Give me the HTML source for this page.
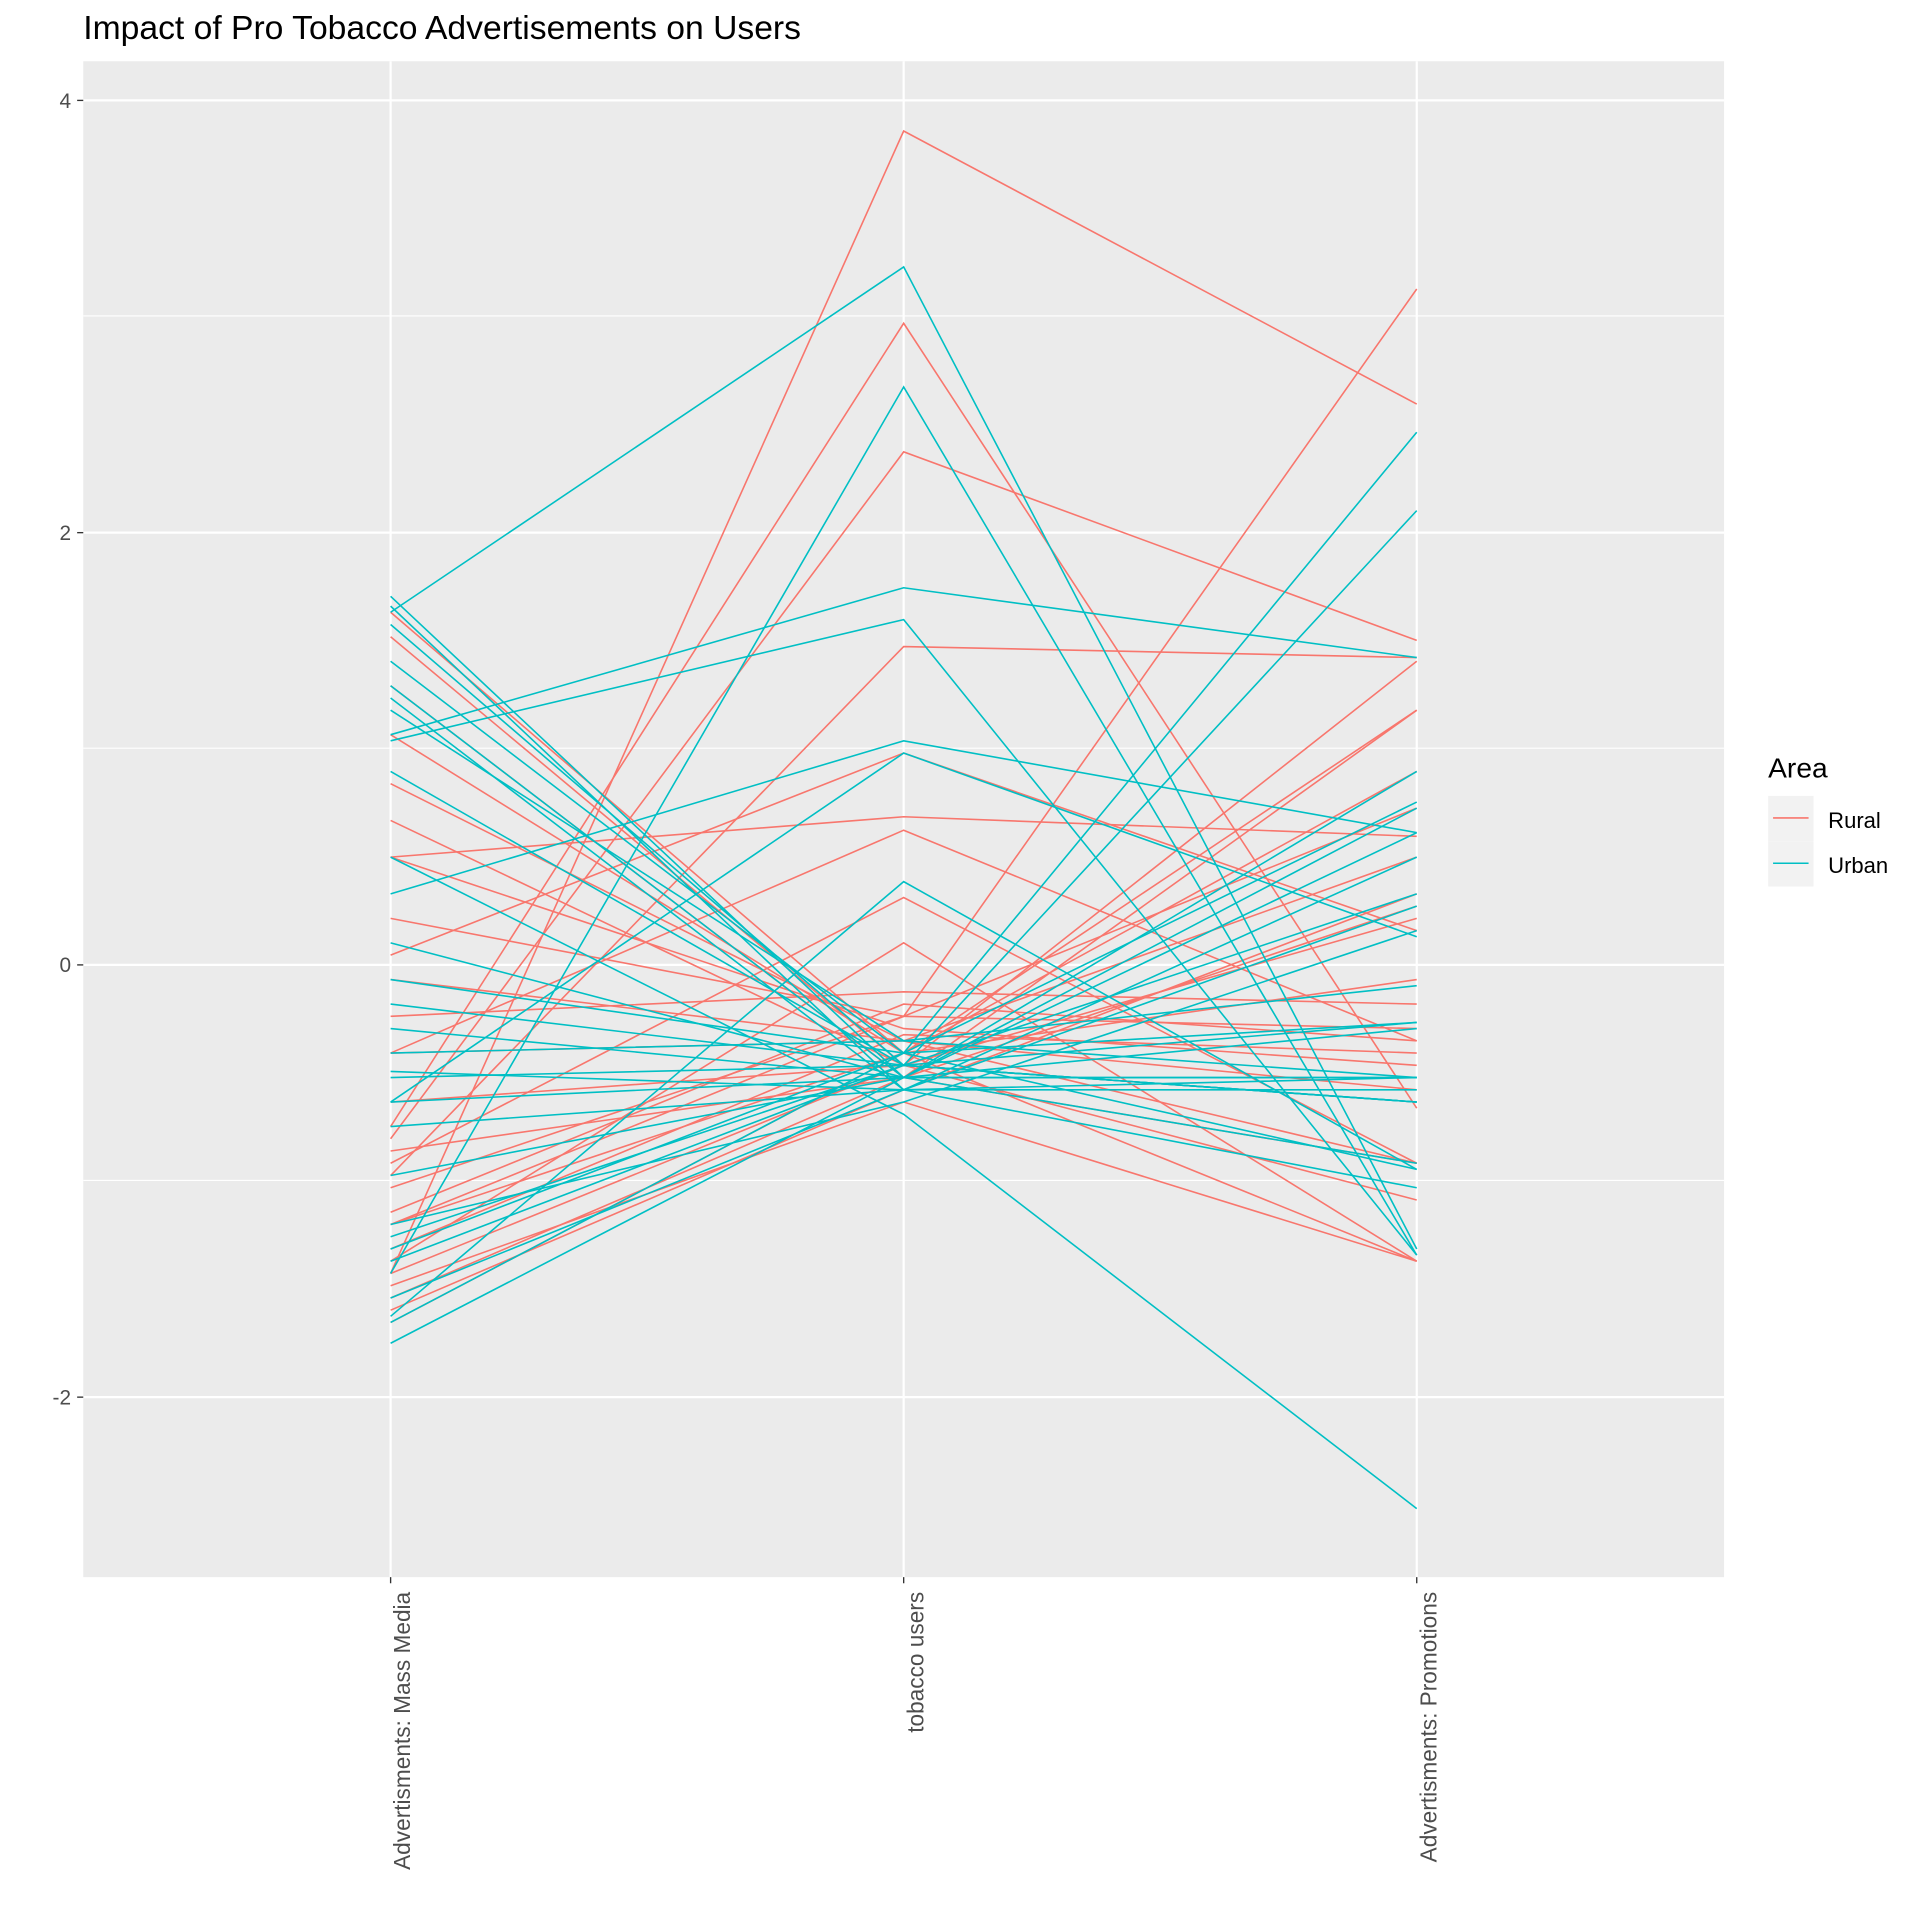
<!DOCTYPE html>
<html><head><meta charset="utf-8"><style>html,body{margin:0;padding:0;background:#fff}svg{display:block}</style></head><body>
<svg width="1920" height="1920" viewBox="0 0 1568 1568" xmlns="http://www.w3.org/2000/svg" font-family="Liberation Sans, Arial, sans-serif">
<rect width="1568" height="1568" fill="#fff"/>
<text x="68" y="32" font-size="27.5" fill="#000">Impact of Pro Tobacco Advertisements on Users</text>
<rect x="68" y="50" width="1340" height="1238" fill="#ebebeb"/>
<g stroke="#fff" stroke-width="0.9"><line x1="68" x2="1408" y1="258" y2="258"/><line x1="68" x2="1408" y1="611" y2="611"/><line x1="68" x2="1408" y1="964" y2="964"/></g>
<g stroke="#fff" stroke-width="1.8"><line x1="68" x2="1408" y1="82" y2="82"/><line x1="68" x2="1408" y1="435" y2="435"/><line x1="68" x2="1408" y1="788" y2="788"/><line x1="68" x2="1408" y1="1141" y2="1141"/>
<line x1="319" x2="319" y1="50" y2="1288"/><line x1="738" x2="738" y1="50" y2="1288"/><line x1="1157" x2="1157" y1="50" y2="1288"/></g>
<g fill="none" stroke="#F8766D" stroke-width="1.3">
<polyline points="319,1040 738,107 1157,330"/><polyline points="319,920 738,264 1157,905"/><polyline points="319,1000 738,830 1157,236"/><polyline points="319,930 738,369 1157,523"/><polyline points="319,960 738,528 1157,537"/><polyline points="319,780 738,615 1157,760"/><polyline points="319,700 738,667 1157,683"/><polyline points="319,860 738,678 1157,850"/><polyline points="319,950 738,733 1157,950"/><polyline points="319,1030 738,770 1157,1030"/><polyline points="319,500 738,860 1157,580"/><polyline points="319,520 738,870 1157,900"/><polyline points="319,560 738,880 1157,950"/><polyline points="319,600 738,860 1157,1030"/><polyline points="319,640 738,850 1157,950"/><polyline points="319,670 738,870 1157,980"/><polyline points="319,700 738,840 1157,870"/><polyline points="319,750 738,830 1157,840"/><polyline points="319,830 738,810 1157,820"/><polyline points="319,860 738,850 1157,700"/><polyline points="319,900 738,870 1157,750"/><polyline points="319,940 738,880 1157,740"/><polyline points="319,1000 738,860 1157,630"/><polyline points="319,1040 738,870 1157,540"/><polyline points="319,1060 738,880 1157,580"/><polyline points="319,1070 738,890 1157,730"/><polyline points="319,1080 738,860 1157,800"/><polyline points="319,1020 738,845 1157,860"/><polyline points="319,1050 738,900 1157,1030"/><polyline points="319,990 738,820 1157,850"/><polyline points="319,970 738,830 1157,660"/><polyline points="319,800 738,850 1157,890"/>
</g>
<g fill="none" stroke="#00BFC4" stroke-width="1.3">
<polyline points="319,500 738,218 1157,1020"/><polyline points="319,1040 738,316 1157,1025"/><polyline points="319,600 738,480 1157,537"/><polyline points="319,605 738,506 1157,1025"/><polyline points="319,730 738,605 1157,680"/><polyline points="319,900 738,615 1157,765"/><polyline points="319,1075 738,720 1157,955"/><polyline points="319,700 738,910 1157,1232"/><polyline points="319,1020 738,860 1157,353"/><polyline points="319,1010 738,870 1157,417"/><polyline points="319,487 738,880 1157,950"/><polyline points="319,495 738,890 1157,880"/><polyline points="319,510 738,870 1157,900"/><polyline points="319,540 738,860 1157,955"/><polyline points="319,560 738,880 1157,840"/><polyline points="319,570 738,890 1157,970"/><polyline points="319,580 738,850 1157,880"/><polyline points="319,630 738,870 1157,835"/><polyline points="319,770 738,880 1157,880"/><polyline points="319,800 738,860 1157,835"/><polyline points="319,820 738,870 1157,900"/><polyline points="319,840 738,880 1157,880"/><polyline points="319,875 738,890 1157,890"/><polyline points="319,880 738,870 1157,900"/><polyline points="319,900 738,880 1157,660"/><polyline points="319,920 738,890 1157,700"/><polyline points="319,960 738,880 1157,630"/><polyline points="319,1000 738,900 1157,760"/><polyline points="319,1097 738,880 1157,680"/><polyline points="319,1030 738,870 1157,730"/><polyline points="319,1060 738,890 1157,740"/><polyline points="319,1080 738,860 1157,655"/><polyline points="319,860 738,850 1157,805"/>
</g>
<g stroke="#333" stroke-width="1.1"><line x1="63" x2="68" y1="82" y2="82"/><line x1="63" x2="68" y1="435" y2="435"/><line x1="63" x2="68" y1="788" y2="788"/><line x1="63" x2="68" y1="1141" y2="1141"/>
<line x1="319" x2="319" y1="1288" y2="1293"/><line x1="738" x2="738" y1="1288" y2="1293"/><line x1="1157" x2="1157" y1="1288" y2="1293"/></g>
<g font-size="17" fill="#4d4d4d" text-anchor="end"><text x="58" y="88">4</text><text x="58" y="441">2</text><text x="58" y="794">0</text><text x="58" y="1147">-2</text></g>
<g font-size="18.5" fill="#4d4d4d" text-anchor="end">
<text transform="translate(335,1300) rotate(-90)">Advertisments: Mass Media</text>
<text transform="translate(754,1300) rotate(-90)">tobacco users</text>
<text transform="translate(1173,1300) rotate(-90)">Advertisments: Promotions</text></g>
<text x="1444" y="635" font-size="23" fill="#000">Area</text>
<rect x="1444" y="650" width="37" height="37" fill="#f2f2f2"/><rect x="1444" y="687" width="37" height="37" fill="#f2f2f2"/>
<line x1="1448" x2="1477" y1="668" y2="668" stroke="#F8766D" stroke-width="1.3"/>
<line x1="1448" x2="1477" y1="705" y2="705" stroke="#00BFC4" stroke-width="1.3"/>
<text x="1493" y="676" font-size="18" fill="#000">Rural</text>
<text x="1493" y="713" font-size="18" fill="#000">Urban</text>
</svg>
</body></html>
